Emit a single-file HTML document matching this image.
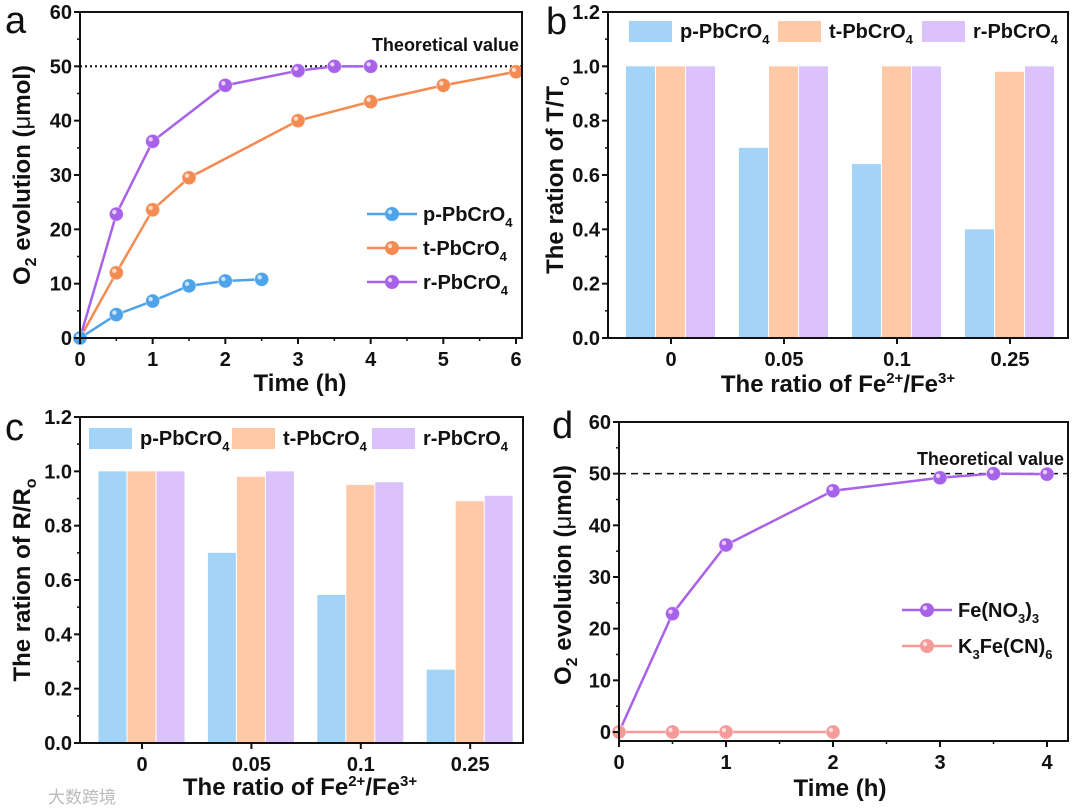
<!DOCTYPE html>
<html><head><meta charset="utf-8"><style>
body{margin:0;background:#fff}
svg{display:block;font-family:"Liberation Sans","Noto Sans CJK SC",sans-serif;font-weight:bold}
</style></head><body>
<svg id="c" width="1080" height="811" viewBox="0 0 1080 811"></svg>
<script>
// Panel a data
const aTime_p=[0,0.5,1,1.5,2,2.5];
const aVal_p=[0,4.3,6.8,9.6,10.5,10.8];
const aTime_t=[0,0.5,1,1.5,3,4,5,6];
const aVal_t=[0,12,23.6,29.5,40,43.5,46.5,49];
const aTime_r=[0,0.5,1,2,3,3.5,4];
const aVal_r=[0,22.8,36.2,46.5,49.2,50,50];
// Panel b data
const ratioCats=["0","0.05","0.1","0.25"];
const b_p=[1,0.7,0.64,0.40];
const b_t=[1,1,1,0.98];
const b_r=[1,1,1,1];
// Panel c data
const c_p=[1,0.7,0.545,0.27];
const c_t=[1,0.98,0.95,0.89];
const c_r=[1,1,0.96,0.91];
// Panel d data
const dTime_fe=[0,0.5,1,2,3,3.5,4];
const dVal_fe=[0,22.9,36.2,46.7,49.2,50,49.9];
const dTime_k=[0,0.5,1,2];
const dVal_k=[0,0,0,0];
const theoretical=50;

const svg=document.getElementById('c');
const NS='http://www.w3.org/2000/svg';
function el(tag,attrs,parent,text){const e=document.createElementNS(NS,tag);for(const k in attrs)e.setAttribute(k,attrs[k]);if(text!==undefined)e.textContent=text;(parent||svg).appendChild(e);return e;}
function lin(d0,d1,r0,r1){return v=>r0+(v-d0)/(d1-d0)*(r1-r0);}
const COL={p:'#4ea3ea',t:'#f38b52',r:'#a862ea',k:'#f59a98'};
const BAR={p:'#a3d3f6',t:'#fdc9a6',r:'#dcc2fb'};

function frame(g,L,R,T,B){el('rect',{x:L,y:T,width:R-L,height:B-T,fill:'none',stroke:'#111','stroke-width':2},g);}
function yTicks(g,L,ys,ticks,minor,fmt){
  ticks.forEach(v=>{const y=ys(v);el('line',{x1:L-6,x2:L,y1:y,y2:y,stroke:'#111','stroke-width':2},g);
    const t=el('text',{x:L-8,y:y+7,'text-anchor':'end','font-size':20,fill:'#111'},g,fmt(v));
    });
  minor.forEach(v=>{const y=ys(v);el('line',{x1:L-3,x2:L,y1:y,y2:y,stroke:'#111','stroke-width':1.5},g);});
}
function xTicks(g,B,xs,ticks,minor,labels){
  ticks.forEach((v,i)=>{const x=xs(v);el('line',{x1:x,x2:x,y1:B,y2:B+6,stroke:'#111','stroke-width':2},g);
    const t=el('text',{x:x,y:B+28,'text-anchor':'middle','font-size':20,fill:'#111'},g,labels?labels[i]:String(v));
    });
  minor.forEach(v=>{const x=xs(v);el('line',{x1:x,x2:x,y1:B,y2:B+3,stroke:'#111','stroke-width':1.5},g);});
}
function series(g,xsArr,ysArr,xs,ys,col,name){
  const pts=xsArr.map((v,i)=>xs(v)+','+ys(ysArr[i])).join(' ');
  const pl=el('polyline',{points:pts,fill:'none',stroke:col,'stroke-width':2.5},g);
  
  xsArr.forEach((v,i)=>{const c=el('circle',{cx:xs(v),cy:ys(ysArr[i]),r:7,fill:col,stroke:'#fff','stroke-width':0.8,'stroke-opacity':0.5},g);
    
    el('circle',{cx:xs(v)-2,cy:ys(ysArr[i])-2,r:2.2,fill:'#fff',opacity:0.7},g);});
}
function legendLine(g,x,y,col,label,sub,tail){
  el('line',{x1:x,x2:x+50,y1:y,y2:y,stroke:col,'stroke-width':2.5},g);
  el('circle',{cx:x+25,cy:y,r:7,fill:col},g);
  el('circle',{cx:x+23,cy:y-2,r:2.2,fill:'#fff',opacity:0.7},g);
  const t=el('text',{x:x+56,y:y+7,'font-size':20,fill:'#111'},g);
  
  el('tspan',{},t,label);el('tspan',{'font-size':13,dy:6},t,sub);
  if(tail){el('tspan',{dy:-6},t,tail[0]);if(tail[1])el('tspan',{'font-size':13,dy:6},t,tail[1]);}
}
function rotTitle(g,x,y,parts){
  const t=el('text',{x:x,y:y,'text-anchor':'middle','font-size':24,fill:'#111',transform:`rotate(-90 ${x} ${y})`},g);
  
  parts.forEach(p=>el('tspan',p.a||{},t,p.s));
}

// ---------- Panel a ----------
(function(){
 const g=el('g',{});
 const L=80,R=522,T=12,B=338;
 const xs=lin(0,6,80,516), ys=lin(0,60,338,12);
 el('line',{x1:L,x2:R,y1:ys(theoretical),y2:ys(theoretical),stroke:'#111','stroke-width':2.2,'stroke-dasharray':'2,3'},g);
 el('text',{x:519,y:51,'text-anchor':'end','font-size':18,fill:'#111'},g,'Theoretical value');
 series(g,aTime_t,aVal_t,xs,ys,COL.t,'t-pbcro4');
 series(g,aTime_r,aVal_r,xs,ys,COL.r,'r-pbcro4');
 series(g,aTime_p,aVal_p,xs,ys,COL.p,'p-pbcro4');
 frame(g,L,R,T,B);
 yTicks(g,L,ys,[0,10,20,30,40,50,60],[5,15,25,35,45,55],v=>v);
 xTicks(g,B,xs,[0,1,2,3,4,5,6],[0.5,1.5,2.5,3.5,4.5,5.5]);
 legendLine(g,367,214,COL.p,'p-PbCrO','4');
 legendLine(g,367,248,COL.t,'t-PbCrO','4');
 legendLine(g,367,282,COL.r,'r-PbCrO','4');
 rotTitle(g,30,175,[{s:'O'},{s:'2',a:{'font-size':16,dy:6}},{s:' evolution (',a:{dy:-6}},{s:'μ',a:{'font-weight':'normal'}},{s:'mol)'}]);
 const xt=el('text',{x:300,y:391,'text-anchor':'middle','font-size':24,fill:'#111'},g,'Time (h)');
 el('text',{x:5,y:33,'font-size':38,'font-weight':'normal',fill:'#111'},g,'a');
})();

// bar panel
function barPanel(name,L,R,T,B,x0,step,bw,vals,legY,legX,title,letter,lx,ly,xTitleX,xTitleY,ytx){
 const g=el('g',{});
 const ys=lin(0,1.2,B,T);
 const xs=i=>x0+i*step;
 const keys=['p','t','r'];
 ratioCats.forEach((c,i)=>{keys.forEach((k,j)=>{const v=vals[j][i];
   const r=el('rect',{x:xs(i)+(j-1.5)*bw,y:ys(v),width:bw-1,height:B-ys(v),fill:BAR[k]},g);
   });});
 frame(g,L,R,T,B);
 yTicks(g,L,ys,[0,0.2,0.4,0.6,0.8,1.0,1.2],[0.1,0.3,0.5,0.7,0.9,1.1],v=>v.toFixed(1));
 xTicks(g,B,i=>xs(i),[0,1,2,3],[],ratioCats);
 const labs=['p-PbCrO','t-PbCrO','r-PbCrO'];
 keys.forEach((k,j)=>{el('rect',{x:legX[j],y:legY-10,width:43,height:21,fill:BAR[k]},g);
   const t=el('text',{x:legX[j]+51,y:legY+7,'font-size':20,fill:'#111'},g);
   
   el('tspan',{},t,labs[j]);el('tspan',{'font-size':13,dy:6},t,'4');});
 rotTitle(g,ytx,(T+B)/2,[{s:title[0]},{s:title[1],a:{'font-size':16,dy:6}}]);
 const xt=el('text',{x:xTitleX,y:xTitleY,'text-anchor':'middle','font-size':24,fill:'#111'},g);
 
 el('tspan',{},xt,'The ratio of Fe');el('tspan',{'font-size':15,dy:-9},xt,'2+');el('tspan',{dy:9},xt,'/Fe');el('tspan',{'font-size':15,dy:-9},xt,'3+');
 el('text',{x:lx,y:ly,'font-size':38,'font-weight':'normal',fill:'#111'},g,letter);
}
barPanel('panel-b',608,1068,12,338,671,113,30,[b_p,b_t,b_r],31,[629,778,922],['The ration of T/T','o'],'b',546,34,838,392,563);
barPanel('panel-c',80,523,417,743,142,109.4,29,[c_p,c_t,c_r],438,[89,232,372],['The ration of R/R','o'],'c',5,440,300,795,30);

// ---------- Panel d ----------
(function(){
 const g=el('g',{});
 const L=619,R=1068,T=422,B=741;
 const xs=lin(0,4,619,1047), ys=lin(0,60,732,422);
 el('line',{x1:L,x2:R,y1:ys(theoretical),y2:ys(theoretical),stroke:'#111','stroke-width':1.5,'stroke-dasharray':'7,5'},g);
 el('text',{x:1064,y:465,'text-anchor':'end','font-size':18,fill:'#111'},g,'Theoretical value');
 series(g,dTime_fe,dVal_fe,xs,ys,COL.r,'fe-no3');
 series(g,dTime_k,dVal_k,xs,ys,COL.k,'k3fe-cn6');
 frame(g,L,R,T,B);
 yTicks(g,L,ys,[0,10,20,30,40,50,60],[5,15,25,35,45,55],v=>v);
 xTicks(g,B,xs,[0,1,2,3,4],[0.5,1.5,2.5,3.5]);
 legendLine(g,902,610,COL.r,'Fe(NO','3',[')','3']);
 legendLine(g,902,646,COL.k,'K','3',['Fe(CN)','6']);
 rotTitle(g,571,575,[{s:'O'},{s:'2',a:{'font-size':16,dy:6}},{s:' evolution (',a:{dy:-6}},{s:'μ',a:{'font-weight':'normal'}},{s:'mol)'}]);
 const xt=el('text',{x:840,y:796,'text-anchor':'middle','font-size':24,fill:'#111'},g,'Time (h)');
 el('text',{x:552,y:438,'font-size':38,'font-weight':'normal',fill:'#111'},g,'d');
})();
const wm=el('text',{x:48,y:803,'font-size':17,'font-weight':'normal',fill:'#bbb'},svg,'大数跨境');

</script>
</body></html>
